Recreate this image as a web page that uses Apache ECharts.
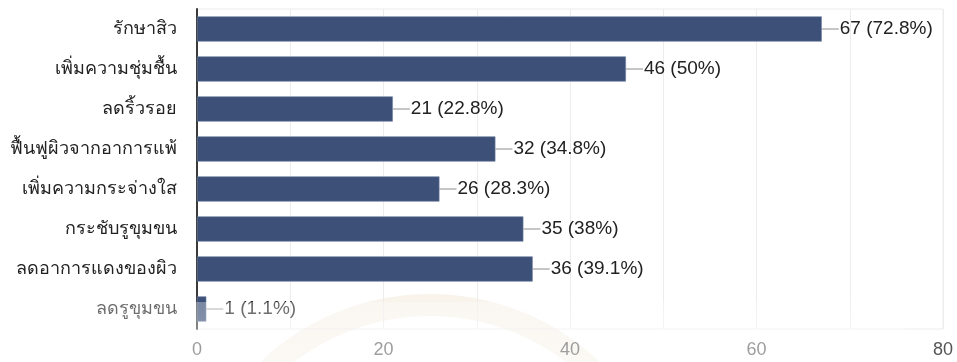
<!DOCTYPE html>
<html>
<head>
<meta charset="utf-8">
<script src="https://cdn.jsdelivr.net/npm/echarts@6/dist/echarts.min.js"></script>
<style>
  html, body { margin: 0; padding: 0; background: #ffffff; }
  #chart { width: 957px; height: 362px; }
</style>
</head>
<body>
<div id="chart"></div>
<script>
// Survey answers: benefits respondents expect from the product
const categories = [
  'รักษาสิว',
  'เพิ่มความชุ่มชื้น',
  'ลดริ้วรอย',
  'ฟื้นฟูผิวจากอาการแพ้',
  'เพิ่มความกระจ่างใส',
  'กระชับรูขุมขน',
  'ลดอาการแดงของผิว',
  'ลดรูขุมขน'
];
const counts = [67, 46, 21, 32, 26, 35, 36, 1];
const respondents = 92;
const axisTicks = [0, 20, 40, 60, 80];

function percentText(v) {
  const p = Math.round(v / respondents * 1000) / 10;
  return (p % 1 === 0 ? p.toFixed(0) : p.toFixed(1)) + '%';
}

const chart = echarts.init(document.getElementById('chart'));
const FONT = 'Liberation Sans, Arial, Noto Sans, sans-serif';

chart.setOption({
  animation: false,
  grid: {
    left: 197, right: 14, top: 9, bottom: 33, containLabel: false,
    show: true, borderColor: '#ececec', borderWidth: 1
  },
  xAxis: {
    type: 'value',
    min: axisTicks[0],
    max: axisTicks[axisTicks.length - 1],
    interval: axisTicks[1] - axisTicks[0],
    axisLine: { show: false },
    axisTick: { show: false },
    axisLabel: { color: '#555555', fontSize: 18, fontFamily: FONT, margin: 12 },
    splitLine: { show: true, lineStyle: { color: '#ececec', width: 1 } },
    minorTick: { show: false, splitNumber: 2 },
    minorSplitLine: { show: true, lineStyle: { color: '#ececec', width: 1 } }
  },
  yAxis: {
    type: 'category',
    inverse: true,
    data: categories,
    axisLine: { show: true, lineStyle: { color: '#3a3a3a', width: 2 } },
    axisTick: { show: false },
    axisLabel: { color: '#222222', fontSize: 18, fontFamily: FONT, margin: 20 }
  },
  series: [{
    type: 'bar',
    data: counts,
    barCategoryGap: '37%',
    itemStyle: { color: '#3c5078', borderColor: '#6f7fa0', borderWidth: 0.6 },
    label: {
      show: true,
      position: 'right',
      distance: 0,
      formatter: p => '{ln| }{t|' + p.value + ' (' + percentText(p.value) + ')}',
      rich: {
        ln: { width: 17, height: 1, backgroundColor: '#8c8c8c', fontSize: 1 },
        t: { color: '#222222', fontSize: 19, fontFamily: FONT, padding: [0, 0, 0, 1] }
      }
    }
  }],
  graphic: [
    {
      type: 'circle',
      shape: { cx: 430, cy: 540, r: 235 },
      style: { fill: 'none', stroke: 'rgba(224,206,170,0.22)', lineWidth: 22 },
      z: -1
    },
    {
      type: 'rect',
      shape: { x: 0, y: 302, width: 905, height: 60 },
      style: {
        fill: new echarts.graphic.LinearGradient(0, 0, 0, 1, [
          { offset: 0, color: 'rgba(255,255,255,0.32)' },
          { offset: 1, color: 'rgba(255,255,255,0.45)' }
        ])
      },
      z: 100
    }
  ]
});
</script>
</body>
</html>
